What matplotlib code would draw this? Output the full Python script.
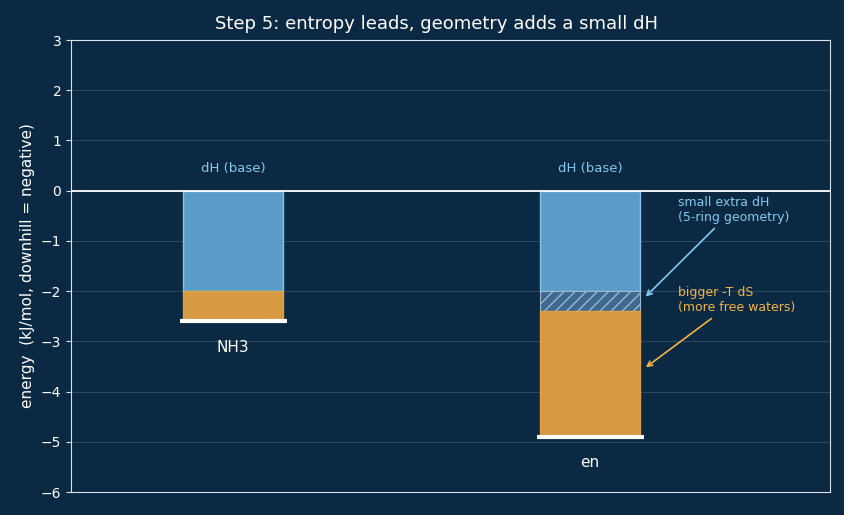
import matplotlib
matplotlib.use("Agg")
import matplotlib.pyplot as plt

categories = ["NH3", "en"]
dH_base = [-2.0, -2.0]
dH_extra = [0.0, -0.4]
minus_TdS = [-0.6, -2.5]
totals = [a + b + c for a, b, c in zip(dH_base, dH_extra, minus_TdS)]

BG = "#0b2942"
BLUE = "#5fa3cf"
BLUE_EDGE = "#8cc8ec"
ORANGE = "#e3a143"
HATCH_FC = "#3d6a8e"
TXT_BLUE = "#86c8ee"
TXT_ORANGE = "#f2b447"

plt.rcParams["hatch.color"] = "#9ab8cf"
fig = plt.figure(figsize=(8.44, 5.15), dpi=100, facecolor=BG)
ax = fig.add_axes([71/844, 1-492/515, (830-71)/844, (492-40)/515])
ax.set_facecolor(BG)

x = [0, 1]
w = 0.28
ax.bar(x, dH_base, width=w, color=BLUE, edgecolor=BLUE_EDGE, linewidth=1, alpha=0.95, zorder=3)
ax.bar(x[1], dH_extra[1], bottom=dH_base[1], width=w, color=HATCH_FC, edgecolor="#9ab8cf",
       hatch="///", linewidth=0.8, zorder=3)
bottoms = [dH_base[i] + dH_extra[i] for i in range(2)]
ax.bar(x, minus_TdS, bottom=bottoms, width=w, color=ORANGE, edgecolor=ORANGE, linewidth=1, alpha=0.95, zorder=3)

for i in range(2):
    ax.hlines(totals[i], x[i] - 0.15, x[i] + 0.15, color="white", linewidth=3, zorder=4)
    ax.text(x[i], totals[i] - 0.52, categories[i], color="white", fontsize=11, ha="center", va="center")
    ax.text(x[i], 0.45, "dH (base)", color=TXT_BLUE, fontsize=9.5, ha="center", va="center")

ax.axhline(0, color="white", linewidth=1.3, zorder=5)

ax.annotate("small extra dH\n(5-ring geometry)", xy=(1.15, -2.15), xytext=(1.245, -0.1),
            color=TXT_BLUE, fontsize=9, ha="left", va="top",
            arrowprops=dict(arrowstyle="->", color=TXT_BLUE, lw=1.2))
ax.annotate("bigger -T dS\n(more free waters)", xy=(1.15, -3.55), xytext=(1.245, -1.9),
            color=TXT_ORANGE, fontsize=9, ha="left", va="top",
            arrowprops=dict(arrowstyle="->", color=TXT_ORANGE, lw=1.2))

ax.set_xlim(-0.454, 1.672)
ax.set_ylim(-6, 3)
ax.set_yticks(range(-6, 4))
ax.set_xticks([])
ax.grid(axis="y", color="#2d4a63", linewidth=0.7, zorder=0)
ax.set_axisbelow(True)
for s in ax.spines.values():
    s.set_color("#d8e2ea")
    s.set_linewidth(0.8)
ax.tick_params(axis="y", colors="#d8e2ea", labelsize=10, labelcolor="white")
ax.set_ylabel("energy  (kJ/mol, downhill = negative)", color="white", fontsize=11)
ax.set_title("Step 5: entropy leads, geometry adds a small dH", color="white", fontsize=13, pad=8,
             x=0.482)

fig.savefig("out.png", dpi=100, facecolor=BG)
